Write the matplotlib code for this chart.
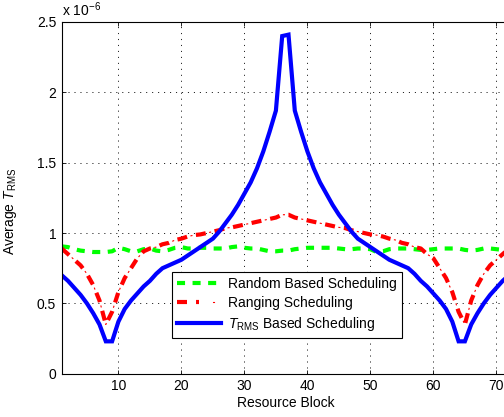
import matplotlib
matplotlib.use("Agg")
import matplotlib.pyplot as plt
from matplotlib.legend_handler import HandlerTuple

plt.rcParams['font.family'] = ['Liberation Sans', 'DejaVu Sans']
plt.rcParams['mathtext.fontset'] = 'custom'
plt.rcParams['mathtext.rm'] = 'Liberation Sans'
plt.rcParams['mathtext.it'] = 'Liberation Sans:italic'
plt.rcParams['lines.scale_dashes'] = False

# ---- data (values in units of 1e-6) ----
resource_block = list(range(1, 73))

random_sched = [0.905, 0.90, 0.885, 0.875, 0.87, 0.865, 0.865, 0.865, 0.87, 0.895,
                0.885, 0.87, 0.87, 0.885, 0.89, 0.875, 0.87, 0.88, 0.895, 0.90,
                0.89, 0.89, 0.895, 0.895, 0.89, 0.89, 0.89, 0.90, 0.905, 0.895,
                0.89, 0.89, 0.88, 0.87, 0.87, 0.875, 0.875, 0.885, 0.89, 0.895,
                0.895, 0.895, 0.895, 0.895, 0.89, 0.885, 0.885, 0.89, 0.89, 0.885,
                0.865, 0.87, 0.885, 0.89, 0.89, 0.89, 0.885, 0.88, 0.88, 0.885,
                0.89, 0.89, 0.89, 0.89, 0.88, 0.875, 0.88, 0.89, 0.89, 0.885,
                0.88, 0.885]

ranging_sched = [0.89, 0.85, 0.81, 0.77, 0.71, 0.63, 0.52, 0.35, 0.44, 0.58,
                 0.68, 0.75, 0.82, 0.87, 0.89, 0.90, 0.92, 0.93, 0.95, 0.96,
                 0.975, 0.985, 0.99, 1.00, 1.01, 1.02, 1.035, 1.04, 1.05, 1.06,
                 1.07, 1.08, 1.09, 1.10, 1.11, 1.13, 1.13, 1.11, 1.10, 1.09,
                 1.08, 1.07, 1.06, 1.05, 1.04, 1.035, 1.02, 1.01, 1.00, 0.99,
                 0.985, 0.975, 0.96, 0.95, 0.93, 0.92, 0.90, 0.89, 0.85, 0.82,
                 0.75, 0.68, 0.58, 0.44, 0.35, 0.52, 0.63, 0.71, 0.77, 0.81,
                 0.85, 0.89]

trms_sched = [0.70, 0.66, 0.61, 0.56, 0.50, 0.43, 0.35, 0.23, 0.23, 0.37,
              0.46, 0.52, 0.57, 0.62, 0.66, 0.71, 0.75, 0.77, 0.79, 0.81,
              0.84, 0.87, 0.90, 0.93, 0.96, 1.01, 1.07, 1.13, 1.20, 1.28,
              1.36, 1.46, 1.58, 1.72, 1.87, 2.40, 2.41, 1.87, 1.72, 1.58,
              1.46, 1.36, 1.28, 1.20, 1.13, 1.07, 1.01, 0.96, 0.93, 0.90,
              0.87, 0.84, 0.81, 0.79, 0.77, 0.75, 0.71, 0.66, 0.62, 0.57,
              0.52, 0.46, 0.37, 0.23, 0.23, 0.35, 0.43, 0.50, 0.56, 0.61,
              0.66, 0.70]

x_ticks = [10, 20, 30, 40, 50, 60, 70]
y_ticks = [0, 0.5, 1, 1.5, 2, 2.5]
y_tick_labels = ['0', '0.5', '1', '1.5', '2', '2.5']
labels = ['Random Based Scheduling', 'Ranging Scheduling',
          r'$T_{\mathrm{RMS}}$ Based Scheduling']

W, H = 504, 417
fig = plt.figure(figsize=(W / 100, H / 100), dpi=100)
ax = fig.add_axes([61.7 / W, 1 - 373.7 / H, 447.3 / W, 351.7 / H])

l_green, = ax.plot(resource_block, random_sched, color=(0, 1, 0), lw=3,
                   linestyle=(0, (5.8, 5.4)), solid_capstyle='butt',
                   dash_capstyle='butt')
l_red, = ax.plot(resource_block, ranging_sched, color=(1, 0, 0), lw=3,
                 linestyle=(0, (7.2, 6.5)), dash_capstyle='butt')
l_red_thin, = ax.plot(resource_block, ranging_sched, color=(1, 0, 0), lw=0.8,
                      linestyle=(4.0, (1.5, 12.2)), dash_capstyle='butt')
l_blue, = ax.plot(resource_block, trms_sched, color=(0, 0, 1), lw=3,
                  solid_joinstyle='miter')

ax.set_xlim(1, 72)
ax.set_ylim(0, 2.5)
ax.set_xticks(x_ticks)
ax.set_yticks(y_ticks)
ax.set_yticklabels(y_tick_labels)
ax.tick_params(direction='in', top=True, right=True, length=3.2, width=0.6,
               labelsize=10, pad=4, colors='black')
ax.grid(True, color='black', linestyle=(0, (0.8, 3.5)), linewidth=0.6)
for s in ax.spines.values():
    s.set_linewidth(0.8)
    s.set_color('black')

ax.set_xlabel('Resource Block', fontsize=10, labelpad=2)
ax.set_ylabel(r'Average $T_{\mathrm{RMS}}$', fontsize=10)
ax.yaxis.set_label_coords(-0.095, 0.46)

fig.text(61.7 / W, 1 - 16 / H, r'x 10$^{-6}$', fontsize=10, ha='left',
         va='baseline')

leg = ax.legend([l_green, (l_red, l_red_thin), l_blue], labels,
                handler_map={tuple: HandlerTuple(ndivide=None, pad=0)},
                loc='lower left', bbox_to_anchor=(0.247, 0.102),
                borderaxespad=0, fontsize=10, handlelength=3.2,
                handletextpad=0.5, labelspacing=0.35, borderpad=0.35,
                fancybox=False, framealpha=1, edgecolor='black')
leg.get_frame().set_linewidth(0.8)

fig.savefig('out.png', dpi=100)
